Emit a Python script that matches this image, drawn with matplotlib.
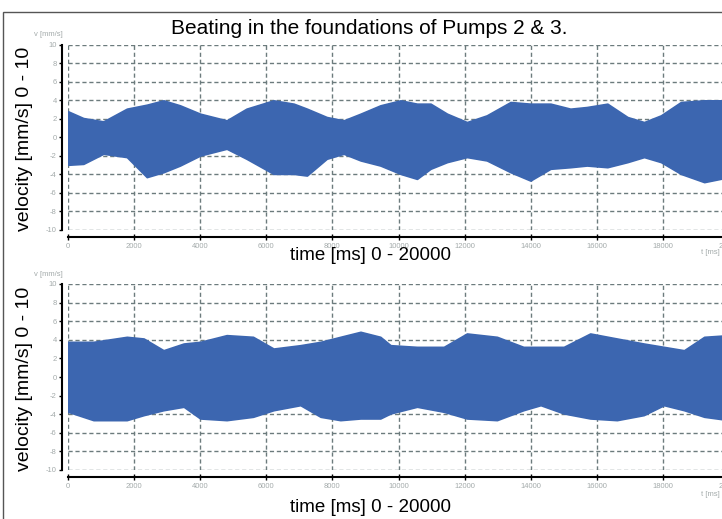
import matplotlib
matplotlib.use("Agg")
import matplotlib.pyplot as plt
from matplotlib.patches import Rectangle

plt.rcParams['font.family'] = ['Liberation Sans', 'DejaVu Sans']

# ---------------- data (envelopes of the vibration signal) ----------------
t1 = [0, 465, 1070, 1780, 2384, 2890, 3390, 4000, 4800, 5400, 6220, 6830, 7230,
      7830, 8340, 8850, 9450, 10060, 10560, 10970, 11470, 12070, 12670, 13390,
      13990, 14600, 15200, 15700, 16320, 16930, 17430, 17940, 18545, 19250, 20000]
upper1 = [2.8, 2.07, 1.71, 3.08, 3.51, 3.98, 3.44, 2.54, 1.82, 3.08, 3.98, 3.62, 3.08,
          2.18, 1.82, 2.54, 3.44, 3.98, 3.62, 3.62, 2.54, 1.64, 2.36, 3.8,
          3.62, 3.62, 3.08, 3.26, 3.62, 2.18, 1.64, 2.36, 3.8, 3.98, 3.98]
lower1 = [-2.97, -2.87, -1.78, -2.14, -4.3, -3.77, -3.05, -1.97, -1.24, -2.32, -3.95, -3.95, -4.13,
          -2.32, -1.78, -2.5, -3.05, -3.95, -4.49, -3.4, -2.68, -2.14, -2.5, -3.77,
          -4.67, -3.4, -3.23, -3.05, -3.23, -2.68, -2.14, -2.68, -3.95, -4.84, -4.3]

t2 = [0, 770, 1780, 2290, 2890, 3500, 4000, 4800, 5600, 6220, 7030, 7640, 8240, 8850,
      9450, 9760, 10560, 11370, 12070, 12980, 13780, 14300, 15000, 15800, 16610,
      17420, 18030, 18640, 19250, 20000]
upper2 = [3.78, 3.78, 4.32, 4.14, 2.88, 3.6, 3.78, 4.5, 4.32, 3.06, 3.42, 3.78, 4.32, 4.86,
          4.32, 3.42, 3.24, 3.24, 4.68, 4.32, 3.24, 3.24, 3.24, 4.68, 4.14,
          3.6, 3.24, 2.88, 4.32, 4.5]
lower2 = [-3.74, -4.64, -4.64, -4.1, -3.57, -3.2, -4.46, -4.64, -4.28, -3.57, -3.03, -4.28, -4.64, -4.46,
          -4.46, -3.92, -3.2, -3.74, -4.46, -4.64, -3.57, -3.03, -3.92, -4.46, -4.64,
          -4.1, -3.03, -3.57, -4.28, -4.64]

xticks = list(range(0, 20001, 2000))
yticks = list(range(-10, 11, 2))
title = "Beating in the foundations of Pumps 2 & 3."
ylabel = "velocity [mm/s] 0 - 10"
xlabel = "time [ms] 0 - 20000"

# ---------------- figure ----------------
W, H = 722, 519
fig = plt.figure(figsize=(W / 100, H / 100), dpi=100)


def fx(px):
    return px / W


def fy(py):
    return 1 - py / H


BLUE = '#3c66b0'
GRID = '#6c7b7d'
TICKC = '#a4abab'

# outer frame
fig.patches.append(Rectangle((fx(2.5), -0.2), 2, fy(12.5) + 0.2, transform=fig.transFigure,
                             fill=False, edgecolor='#555555', lw=1.0))

panels = [
    (t1, upper1, lower1, 44.5, 230, 255, 253),
    (t2, upper2, lower2, 284, 470, 507, 495),
]

for (t, up, lo, top_px, bot_px, xl_px, tms_px) in panels:
    ax = fig.add_axes([fx(68), fy(bot_px), fx(729) - fx(68), (bot_px - top_px) / H])
    ax.set_xlim(0, 20000)
    ax.set_ylim(-10, 10)
    ax.fill_between(t, lo, up, color=BLUE, lw=1.2, edgecolor=BLUE, zorder=3)
    ax.set_axisbelow(True)
    ax.set_xticks(xticks)
    ax.set_yticks(yticks)
    ax.set_xticklabels([str(v) for v in xticks])
    ax.set_yticklabels([str(v) for v in yticks])
    ax.grid(True, color=GRID, ls=(0, (3, 2)), lw=1.0)
    for s in ['top', 'right']:
        ax.spines[s].set_visible(False)
    ax.spines['left'].set_position(('outward', 4.3))
    ax.spines['bottom'].set_position(('outward', 5))
    ax.spines['left'].set_linewidth(1.5)
    ax.spines['bottom'].set_linewidth(1.5)
    ax.tick_params(axis='y', direction='out', length=2.5, width=1, color='black',
                   labelsize=5.5, labelcolor=TICKC, pad=1.2)
    ax.tick_params(axis='x', direction='inout', length=5, width=1, color='black',
                   labelsize=5.5, labelcolor=TICKC, pad=2)
    # axis unit labels
    fig.text(fx(48), fy(top_px - 9.5), "v [mm/s]", fontsize=5.5, color=TICKC,
             ha='center', va='center')
    fig.text(fx(710), fy(tms_px), "t [ms]", fontsize=5.5, color=TICKC,
             ha='center', va='center')
    fig.text(fx(370), fy(xl_px), xlabel, fontsize=13.5, ha='center', va='center')
    fig.text(fx(25), fy((top_px + bot_px) / 2 + 2), ylabel, fontsize=14, rotation=90,
             ha='center', va='center')

fig.text(fx(369), fy(28), title, fontsize=15, ha='center', va='center')

fig.savefig('out.png', dpi=100)
